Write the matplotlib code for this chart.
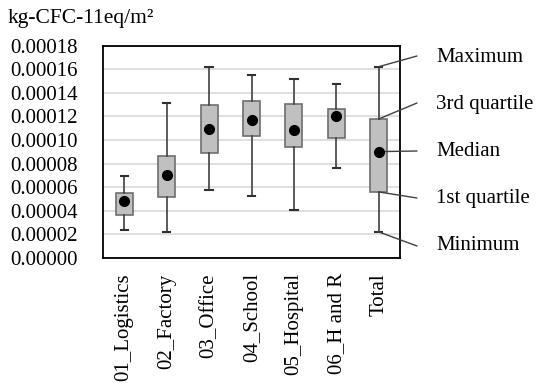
import numpy as np
import matplotlib
matplotlib.use("Agg")
import matplotlib.pyplot as plt

plt.rcParams['font.family'] = ['Liberation Serif', 'DejaVu Serif']

categories = ["01_Logistics", "02_Factory", "03_Office", "04_School",
              "05_Hospital", "06_H and R", "Total"]
mins = [2.35e-5, 2.18e-5, 5.77e-5, 5.27e-5, 4.09e-5, 7.65e-5, 2.21e-5]
q1s = [3.67e-5, 5.18e-5, 8.90e-5, 1.036e-4, 9.39e-5, 1.014e-4, 5.60e-5]
medians = [4.85e-5, 7.00e-5, 1.09e-4, 1.168e-4, 1.087e-4, 1.204e-4, 9.02e-5]
q3s = [5.50e-5, 8.63e-5, 1.294e-4, 1.334e-4, 1.303e-4, 1.263e-4, 1.179e-4]
maxs = [6.97e-5, 1.313e-4, 1.616e-4, 1.555e-4, 1.515e-4, 1.476e-4, 1.622e-4]
yticks = [0, 2e-5, 4e-5, 6e-5, 8e-5, 1e-4, 1.2e-4, 1.4e-4, 1.6e-4, 1.8e-4]
legend_labels = ["Maximum", "3rd quartile", "Median", "1st quartile", "Minimum"]

W, H = 550, 386
fs = 15
fig = plt.figure(figsize=(5.5, 3.86), dpi=100)
ax = fig.add_axes([103/W, 1-258/H, 297/W, 212.3/H])

stats = []
for i, c in enumerate(categories):
    stats.append(dict(label=c, whislo=mins[i], q1=q1s[i], med=medians[i],
                      q3=q3s[i], whishi=maxs[i], fliers=[]))
pos = np.arange(1, len(categories)+1)
ax.bxp(stats, positions=pos, widths=0.4, patch_artist=True, showfliers=False,
       capwidths=0.17,
       boxprops=dict(facecolor="#c0c0c0", edgecolor="#6e6e6e", lw=1.2),
       whiskerprops=dict(color="#404040", lw=1.2),
       capprops=dict(color="#303030", lw=1.5),
       medianprops=dict(lw=0), zorder=3)
ax.plot(pos, medians, "o", color="black", ms=7, zorder=4)

ax.set_xlim(0.5, 7.5)
ax.set_ylim(0, 1.8e-4)
ax.set_yticks(yticks)
ax.set_yticklabels(["%.5f" % v for v in yticks], fontsize=fs)
ax.set_xticks(pos)
ax.set_xticklabels(categories, rotation=90, fontsize=fs)
ax.tick_params(axis="y", length=0, pad=18)
ax.tick_params(axis="x", length=0, pad=11)
ax.yaxis.grid(True, color="#d9d9d9", lw=1.2)
ax.set_axisbelow(True)
for s in ax.spines.values():
    s.set_color("black")
    s.set_linewidth(1.3)

fig.text(8/W, 1-19/H, "kg-CFC-11eq/m²", fontsize=fs+0.5, va="center", ha="left")

# annotations pointing to the Total box
vals = [maxs[6], q3s[6], medians[6], q1s[6], mins[6]]
ly = [56, 103, 151, 198, 246]
ty = [57, 104, 151, 198, 245]
for lab, v, y1, y2 in zip(legend_labels, vals, ly, ty):
    ax.annotate("", xy=(7, v), xytext=(417/W, 1-y1/H), textcoords="figure fraction",
                arrowprops=dict(arrowstyle="-", color="#404040", lw=1.0,
                                shrinkA=0, shrinkB=0),
                annotation_clip=False)
    fig.text(436/W, 1-y2/H, lab, fontsize=fs, va="center", ha="left")

fig.savefig("out.png", dpi=100)
